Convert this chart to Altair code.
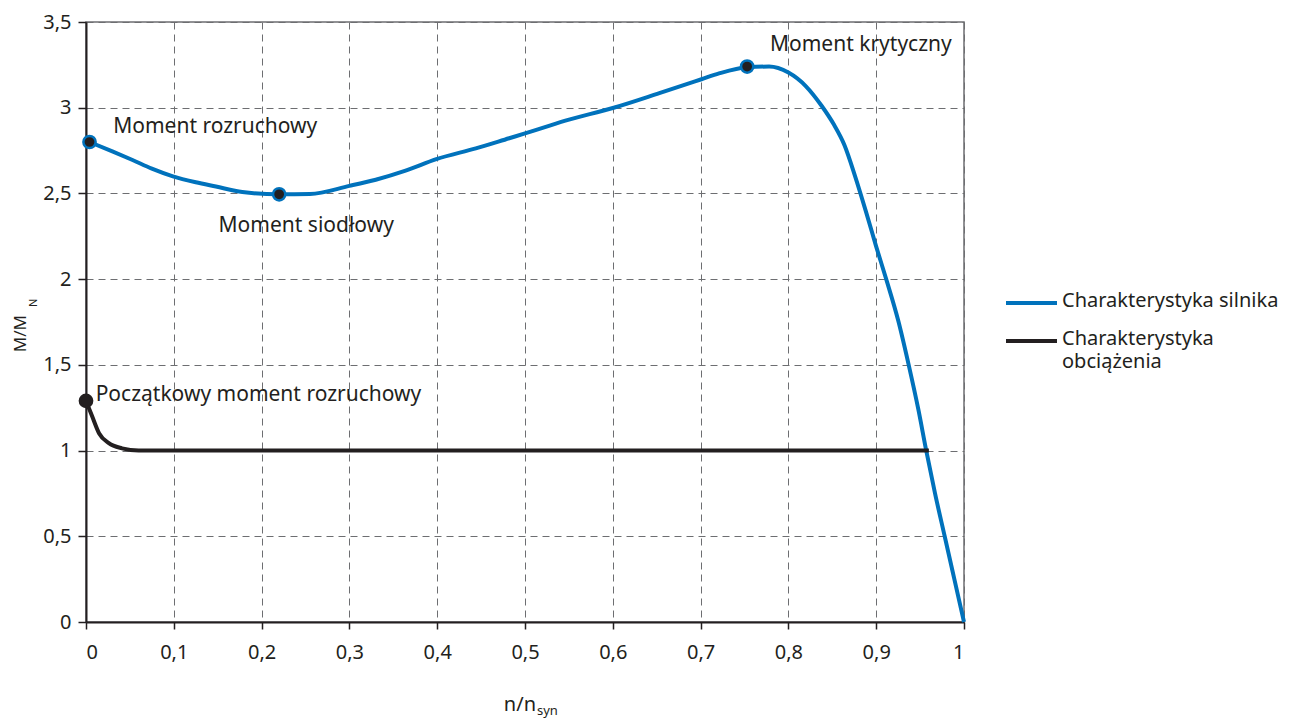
import altair as alt
import pandas as pd

# ---- data ----
motor_x = [0.004, 0.03, 0.053, 0.075, 0.099, 0.125, 0.148, 0.178, 0.22, 0.255,
           0.30, 0.33, 0.364, 0.399, 0.444, 0.482, 0.5, 0.546, 0.601, 0.653,
           0.701, 0.721, 0.753, 0.778, 0.80, 0.82, 0.838, 0.852, 0.864, 0.876,
           0.888, 0.900, 0.912, 0.925, 0.937, 0.948, 0.957, 0.967, 0.978, 0.989, 1.0]
motor_y = [2.80, 2.745, 2.695, 2.645, 2.60, 2.565, 2.54, 2.508, 2.495, 2.497,
           2.544, 2.58, 2.633, 2.70, 2.763, 2.822, 2.85, 2.925, 3.0, 3.085,
           3.166, 3.20, 3.236, 3.24, 3.205, 3.125, 3.01, 2.90, 2.78, 2.60,
           2.40, 2.19, 1.99, 1.76, 1.50, 1.24, 1.0, 0.75, 0.50, 0.25, 0.0]

load_x = [0.0, 0.007, 0.015, 0.026, 0.041, 0.06, 0.96]
load_y = [1.29, 1.20, 1.10, 1.043, 1.013, 1.0, 1.0]

pt_x = [0.004, 0.22, 0.753, 0.0]
pt_y = [2.80, 2.495, 3.24, 1.29]
pt_kind = ["silnik", "silnik", "silnik", "obciazenie"]

ann_text = ["Moment rozruchowy", "Moment siodłowy", "Moment krytyczny",
            "Początkowy moment rozruchowy"]
ann_x = [0.031, 0.151, 0.779, 0.011]
ann_y = [2.89, 2.31, 3.366, 1.326]

x_ticks = [0, 0.1, 0.2, 0.3, 0.4, 0.5, 0.6, 0.7, 0.8, 0.9, 1]
y_ticks = [0, 0.5, 1, 1.5, 2, 2.5, 3, 3.5]

legend_labels = ["Charakterystyka silnika", "Charakterystyka\nobciążenia"]

# ---- style ----
FONT = "Noto Sans"
TXT = "#231F20"
BLUE = "#0072BC"
BLACK = "#231F20"
GRID = "#6D6E71"

xs = alt.Scale(domain=[0, 1], nice=False, zero=False)
ys = alt.Scale(domain=[0, 3.5], nice=False)
label_expr = "replace(toString(datum.value), '.', ',')"

common_axis = dict(
    labelExpr=label_expr, title=None, grid=True, gridDash=[7, 5], gridColor=GRID,
    gridWidth=1, domainColor=BLACK, domainWidth=2, tickColor=BLACK, tickWidth=1.5,
    labelFontSize=20, labelFont=FONT, labelColor=TXT,
)
x_axis = alt.Axis(values=x_ticks, tickSize=7, labelPadding=13, **common_axis)
y_axis = alt.Axis(values=y_ticks, tickSize=8, labelPadding=7, **common_axis)

motor_df = pd.DataFrame({"x": motor_x, "y": motor_y})
load_df = pd.DataFrame({"x": load_x, "y": load_y})
pt_df = pd.DataFrame({"x": pt_x, "y": pt_y, "kind": pt_kind})
ann_df = pd.DataFrame({"x": ann_x, "y": ann_y, "t": ann_text})

motor = alt.Chart(motor_df).mark_line(
    color=BLUE, strokeWidth=4, interpolate="monotone"
).encode(
    x=alt.X("x:Q", scale=xs, axis=x_axis),
    y=alt.Y("y:Q", scale=ys, axis=y_axis),
)

load = alt.Chart(load_df).mark_line(
    color=BLACK, strokeWidth=4, interpolate="monotone"
).encode(x="x:Q", y="y:Q")

points = alt.Chart(pt_df).mark_circle(
    fill=BLACK, fillOpacity=1, opacity=1, size=150, strokeWidth=2.5
).encode(
    x="x:Q", y="y:Q",
    stroke=alt.Stroke("kind:N", scale=alt.Scale(domain=["silnik", "obciazenie"],
                                                range=[BLUE, BLACK]), legend=None),
)

ann = alt.Chart(ann_df).mark_text(
    align="left", baseline="middle", font=FONT, fontSize=21, color=TXT
).encode(x="x:Q", y="y:Q", text="t:N")


def txt(s, x, y, size, align="left", angle=0, baseline="middle", **extra):
    kw = dict(align=align, baseline=baseline, font=FONT, fontSize=size, color=TXT, **extra)
    if angle:
        kw["angle"] = angle
    return alt.Chart(pd.DataFrame({"t": [s]})).mark_text(**kw).encode(
        x=alt.value(x), y=alt.value(y), text="t:N")


# axis titles with subscripts
xt1 = txt("n/n", 450, 683, 20, align="right")
xt2 = txt("syn", 451, 689, 13, align="left")
yt1 = txt("M/M", -65, 293, 17, align="right", angle=270)
yt2 = txt("N", -52, 285, 11, align="left", angle=270)

# legend (drawn to the right of the plot)
leg_rule1 = alt.Chart(pd.DataFrame({"a": [0]})).mark_rule(
    color=BLUE, strokeWidth=4).encode(x=alt.value(920), x2=alt.value(971), y=alt.value(281))
leg_rule2 = alt.Chart(pd.DataFrame({"a": [0]})).mark_rule(
    color=BLACK, strokeWidth=4).encode(x=alt.value(920), x2=alt.value(971), y=alt.value(319))
l1 = txt(legend_labels[0], 976, 279, 20)
l2 = txt(legend_labels[1], 976, 323, 20, baseline="alphabetic",
         lineBreak="\n", lineHeight=23)

chart = alt.layer(
    motor, load, points, ann, xt1, xt2, yt1, yt2,
    leg_rule1, leg_rule2, l1, l2
).properties(
    width=878, height=600,
    padding={"left": 78, "top": 14, "right": 320, "bottom": 98},
    autosize="none",
).configure_view(
    stroke=GRID, strokeWidth=1.5
)

chart.save("out.html", embed_options={"renderer": "svg", "actions": False})
